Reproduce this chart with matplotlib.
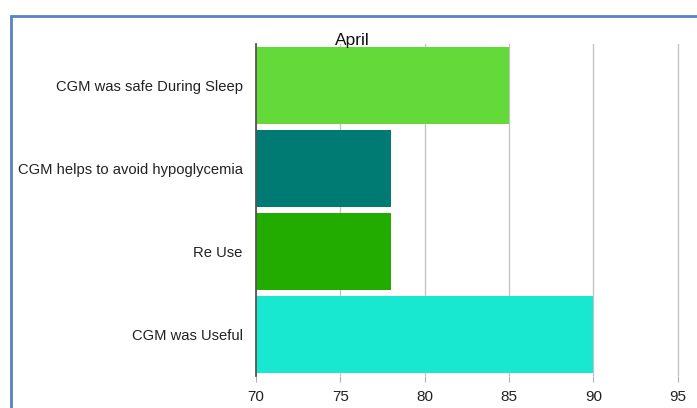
import matplotlib.pyplot as plt
from matplotlib.patches import Rectangle

categories = ["CGM was safe During Sleep", "CGM helps to avoid hypoglycemia",
              "Re Use", "CGM was Useful"]
values = [85, 78, 78, 90]
colors = ["#63DA3A", "#007B73", "#22AC00", "#18E8D0"]
xticks = [70, 75, 80, 85, 90, 95]

plt.rcParams['font.family'] = ['Liberation Sans', 'DejaVu Sans']

fig = plt.figure(figsize=(6.97, 4.08), dpi=100)
ax = fig.add_axes([256 / 697, 32 / 408, 506 / 697, 332 / 408])

ypos = list(range(len(categories)))[::-1]
ax.barh(ypos, [v - 70 for v in values], left=70, height=0.92, color=colors, zorder=2)

ax.set_xlim(70, 100)
ax.set_ylim(-0.5, 3.5)
ax.set_yticks(ypos)
ax.set_yticklabels(categories, fontsize=10.6, color="#222222")
ax.set_xticks(xticks)
ax.set_xticklabels([str(t) for t in xticks], fontsize=11, color="#222222")
ax.tick_params(axis='y', length=0, pad=9.5)
ax.tick_params(axis='x', length=4, color="#b0b0b0", pad=6)
ax.grid(axis='x', color="#c4c4c4", linewidth=1, zorder=0)
ax.set_axisbelow(True)
for s in ["top", "right", "bottom"]:
    ax.spines[s].set_visible(False)
ax.spines["left"].set_color("#555555")
ax.spines["left"].set_linewidth(1.3)
ax.spines["left"].set_zorder(3)

fig.text(352 / 697, 1 - 40 / 408, "April", fontsize=12.5, ha="center", va="center", color="#111111")

fig.patches.append(Rectangle((11 / 697, -0.1), 1.2, 1 - 16 / 408 + 0.1, transform=fig.transFigure,
                             fill=False, edgecolor="#5583C4", linewidth=2))

fig.savefig("out.png", dpi=100)
